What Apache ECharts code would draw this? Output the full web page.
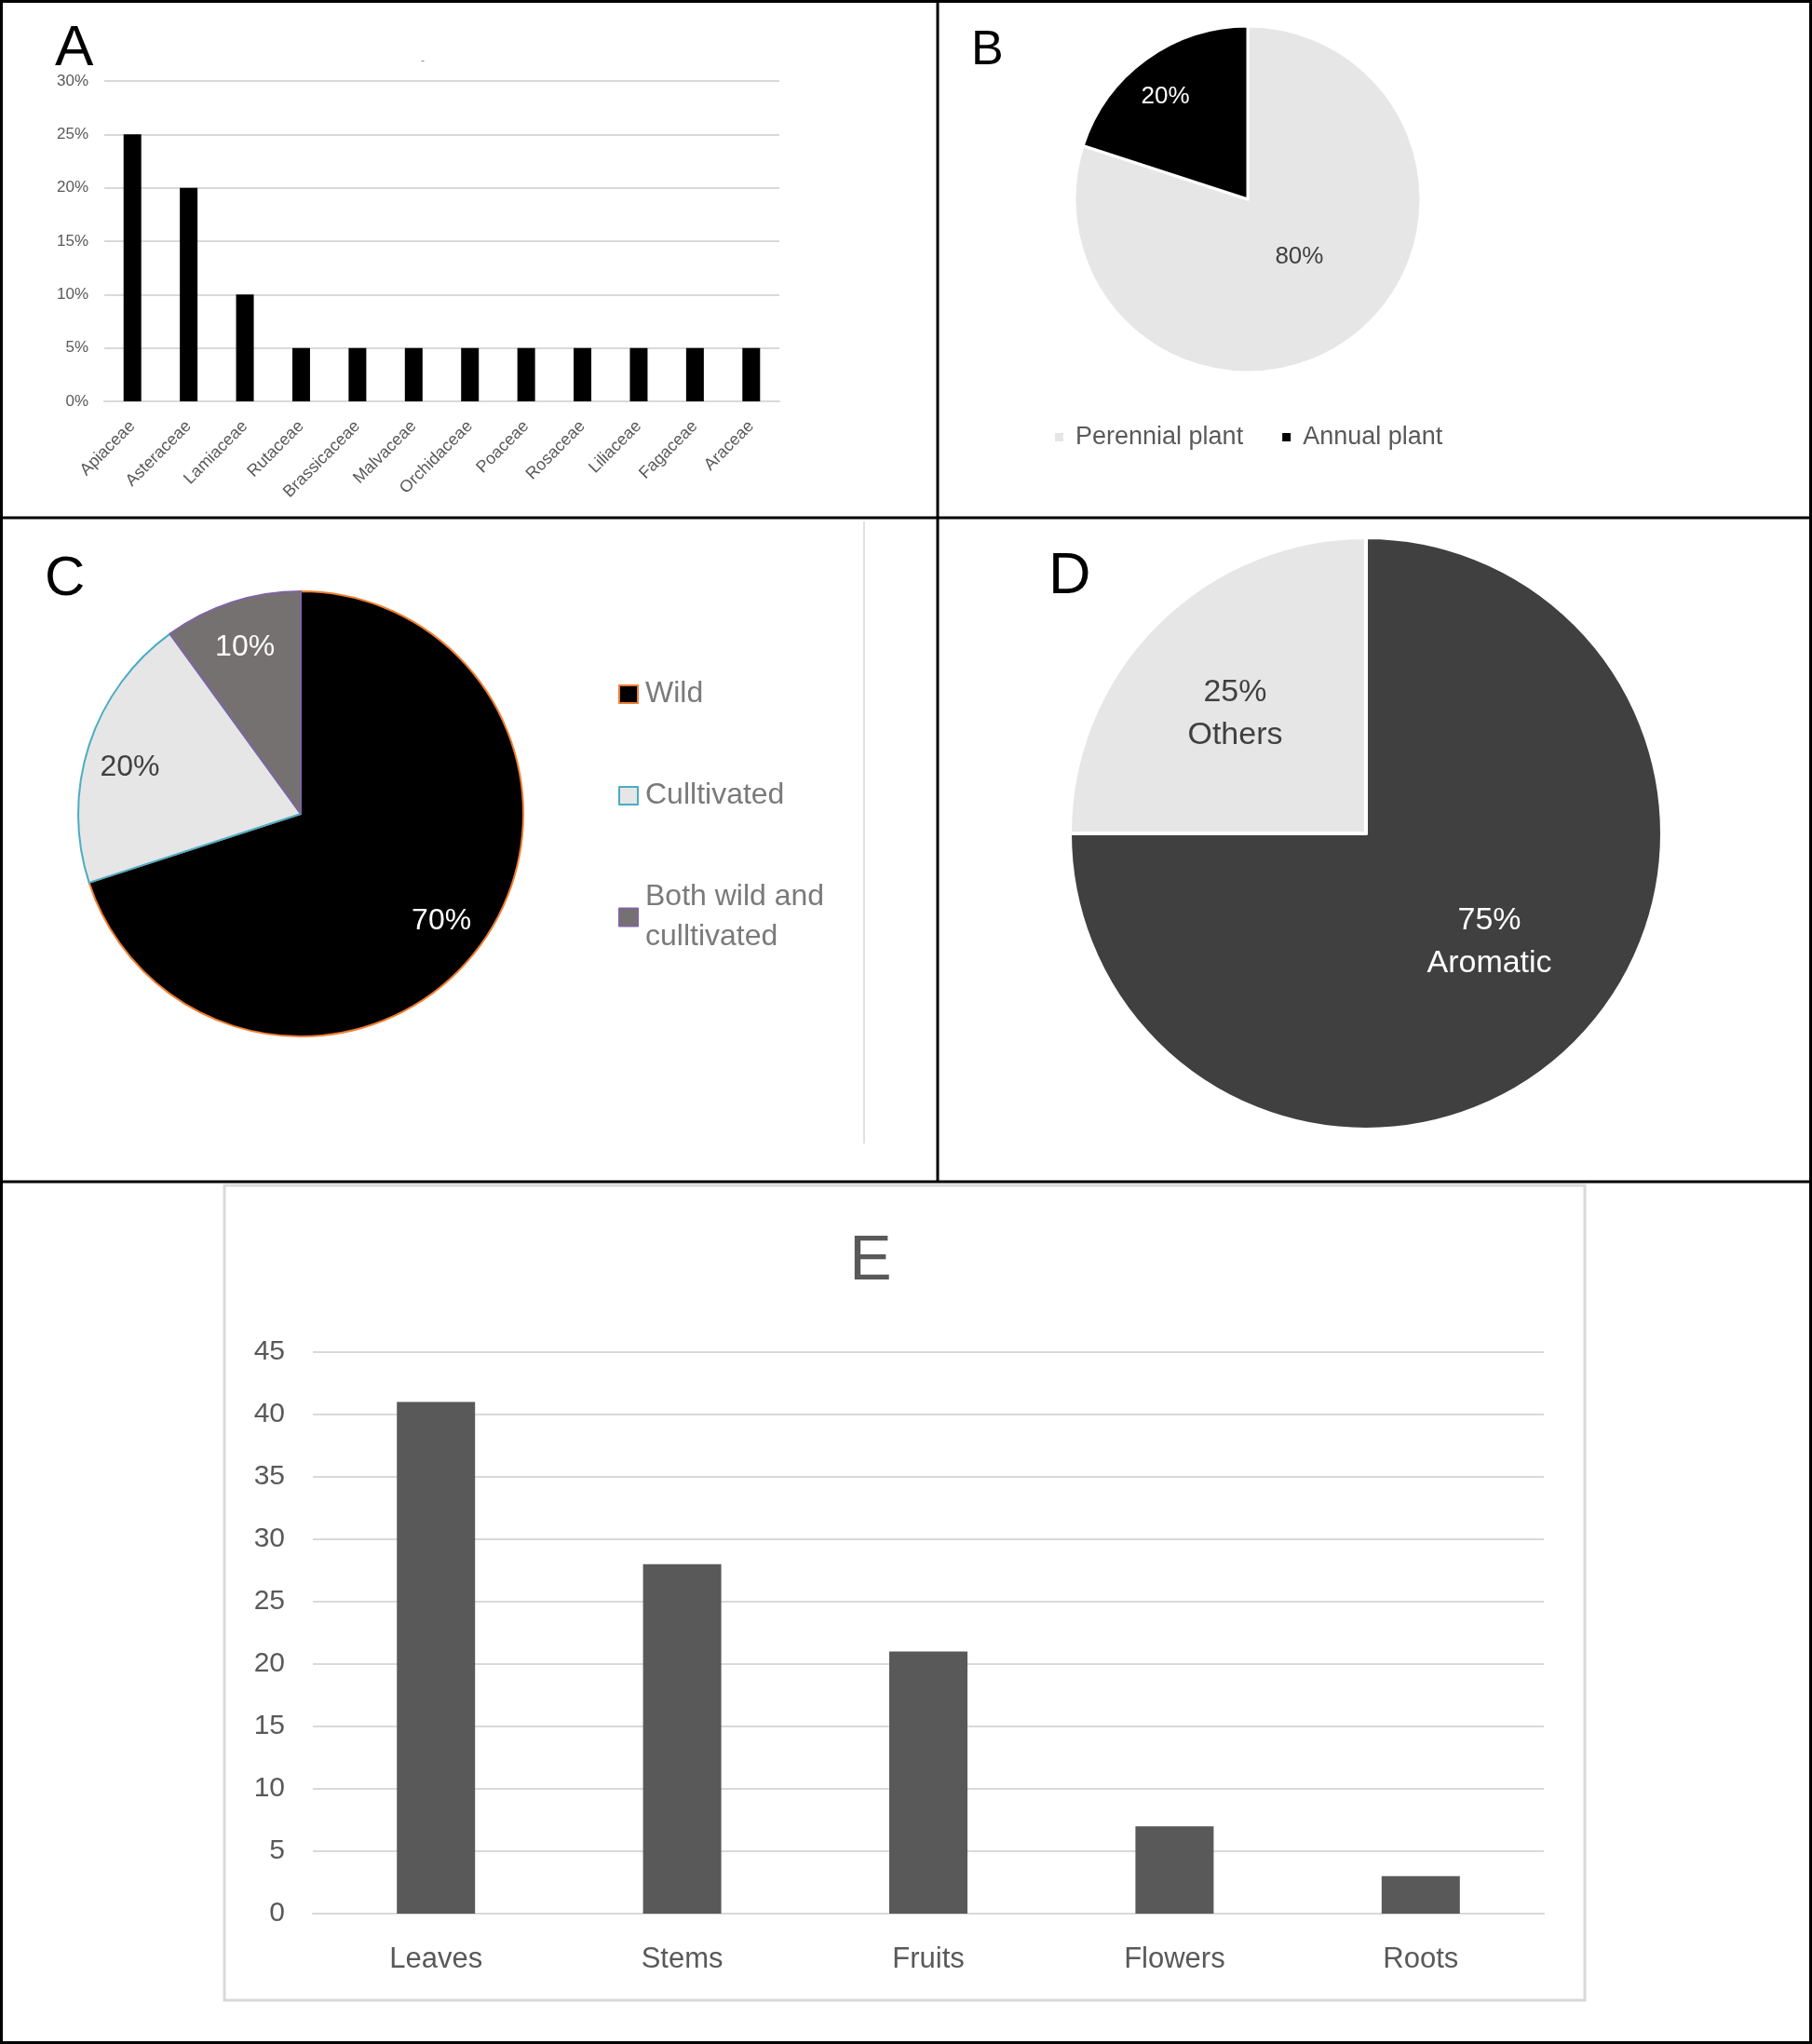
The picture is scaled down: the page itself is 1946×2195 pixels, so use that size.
<!DOCTYPE html>
<html>
<head>
<meta charset="utf-8">
<script src="https://cdn.jsdelivr.net/npm/echarts@6/dist/echarts.min.js"></script>
<style>
html,body{margin:0;padding:0;background:#fff;}
#chart{width:1946px;height:2195px;}
</style>
</head>
<body>
<div id="chart"></div>
<script>
// ---- Data ----
const familyNames = ['Apiaceae','Asteraceae','Lamiaceae','Rutaceae','Brassicaceae','Malvaceae','Orchidaceae','Poaceae','Rosaceae','Liliaceae','Fagaceae','Araceae'];
const familyValues = [25,20,10,5,5,5,5,5,5,5,5,5];
const lifeNames = ['Perennial plant','Annual plant'];
const lifeValues = [80,20];
const originNames = ['Wild','Culltivated','Both wild and\nculltivated'];
const originValues = [70,20,10];
const aromaNames = ['Aromatic','Others'];
const aromaValues = [75,25];
const partNames = ['Leaves','Stems','Fruits','Flowers','Roots'];
const partValues = [41,28,21,7,3];

// ---- Styles ----
const FONT = "'Liberation Sans', Arial, sans-serif";
const TXT = '#595959';
const GRID = '#d9d9d9';
const lifeColors = ['#e6e6e6','#000000'];
const originColors = ['#000000','#e6e6e6','#767171'];
const originBorders = ['#ED7D31','#4BACC6','#8064A2'];
const aromaColors = ['#404040','#e7e6e6'];
// label nudges (px) relative to default inside position
const nudgeB = [[-1,-16],[-32,-33]];
const nudgeC = [[52,43],[-67,-12],[-22,-62]];
const nudgeD = [[18,2],[-26,-14]];
const nudger = arr => (p => ({dx: arr[p.dataIndex][0], dy: arr[p.dataIndex][1]}));

const chart = echarts.init(document.getElementById('chart'));

const option = {
  backgroundColor: '#fff',
  animation: false,
  textStyle: {fontFamily: FONT},
  grid: [
    {left:112, top:87, width:725, height:344},
    {left:336, top:1452, width:1322, height:603}
  ],
  xAxis: [
    {gridIndex:0, type:'category', data: familyNames,
     axisLine:{lineStyle:{color:GRID,width:2}}, axisTick:{show:false},
     axisLabel:{rotate:45, color:TXT, fontSize:18, margin:24, fontFamily:FONT, interval:0}},
    {gridIndex:1, type:'category', data: partNames,
     axisLine:{lineStyle:{color:GRID,width:2}}, axisTick:{show:false},
     axisLabel:{color:TXT, fontSize:31, margin:34, fontFamily:FONT, interval:0}}
  ],
  yAxis: [
    {gridIndex:0, type:'value', min:0, max:30, interval:5,
     axisLine:{show:false}, axisTick:{show:false},
     splitLine:{lineStyle:{color:GRID,width:2}},
     axisLabel:{formatter:'{value}%', color:TXT, fontSize:17, margin:17, fontFamily:FONT}},
    {gridIndex:1, type:'value', min:0, max:45, interval:5,
     axisLine:{show:false}, axisTick:{show:false},
     splitLine:{lineStyle:{color:GRID,width:2}},
     axisLabel:{color:TXT, fontSize:30, margin:30, fontFamily:FONT}}
  ],
  legend: [
    {data: lifeNames, left:1126, top:451, orient:'horizontal', itemWidth:11, itemHeight:11, itemGap:40,
     icon:'rect', textStyle:{color:TXT, fontSize:27, fontFamily:FONT, padding:[0,0,0,7]}},
    {data: originNames.map((n,i)=>({name:n, itemStyle:{color:originColors[i], borderColor:originBorders[i], borderWidth:2}})),
     left:659, top:719, orient:'vertical', itemWidth:20, itemHeight:19, itemGap:66,
     icon:'rect', textStyle:{color:'#7a7a7a', fontSize:32, lineHeight:43, fontFamily:FONT, padding:[0,0,0,3]}}
  ],
  series: [
    {type:'bar', xAxisIndex:0, yAxisIndex:0, data: familyValues, barWidth:19,
     itemStyle:{color:'#000'}},
    {type:'pie', center:[1340,214], radius:186, startAngle:90, clockwise:true,
     data: lifeNames.map((n,i)=>({name:n, value:lifeValues[i], itemStyle:{color:lifeColors[i]},
       label:{color: i===1 ? '#fff' : '#404040'}})),
     itemStyle:{borderColor:'#fff', borderWidth:3},
     label:{show:true, position:'inside', formatter: p => p.percent + '%', fontSize:26, fontFamily:FONT},
     labelLayout: nudger(nudgeB),
     labelLine:{show:false}, emphasis:{disabled:true}},
    {type:'pie', center:[323,874], radius:239, startAngle:90, clockwise:true,
     data: originNames.map((n,i)=>({name:n, value:originValues[i],
       itemStyle:{color:originColors[i], borderColor:originBorders[i], borderWidth:2},
       label:{color: i===1 ? '#404040' : '#fff'}})),
     label:{show:true, position:'inside', formatter: p => p.percent + '%', fontSize:32, fontFamily:FONT},
     labelLayout: nudger(nudgeC),
     labelLine:{show:false}, emphasis:{disabled:true}},
    {type:'pie', center:[1467,895], radius:318, startAngle:90, clockwise:true,
     data: aromaNames.map((n,i)=>({name:n, value:aromaValues[i], itemStyle:{color:aromaColors[i]},
       label:{color: i===0 ? '#fff' : '#404040'}})),
     itemStyle:{borderColor:'#fff', borderWidth:4},
     label:{show:true, position:'inside', formatter: p => p.percent + '%\n' + p.name, fontSize:34, lineHeight:46, fontFamily:FONT},
     labelLayout: nudger(nudgeD),
     labelLine:{show:false}, emphasis:{disabled:true}},
    {type:'bar', xAxisIndex:1, yAxisIndex:1, data: partValues, barWidth:84,
     itemStyle:{color:'#595959'}}
  ],
  graphic: [
    // panel frame
    {type:'rect', shape:{x:1.5,y:1.5,width:1943,height:2192}, style:{fill:'none', stroke:'#000', lineWidth:3}, z:100},
    {type:'line', shape:{x1:1007,y1:0,x2:1007,y2:1269}, style:{stroke:'#000', lineWidth:3}, z:100},
    {type:'line', shape:{x1:0,y1:556,x2:1946,y2:556}, style:{stroke:'#000', lineWidth:3}, z:100},
    {type:'line', shape:{x1:0,y1:1269,x2:1946,y2:1269}, style:{stroke:'#000', lineWidth:3}, z:100},
    // light separators / box
    {type:'line', shape:{x1:928,y1:560,x2:928,y2:1228}, style:{stroke:'#e0e0e0', lineWidth:2}, z:50},
    {type:'rect', shape:{x:241,y:1273,width:1461,height:875}, style:{fill:'none', stroke:GRID, lineWidth:3}, z:50},
    // panel letters
    {type:'text', left:59, top:22, style:{text:'A', fontSize:62, fill:'#000', fontFamily:FONT}},
    {type:'text', left:1043, top:29, style:{text:'B', fontSize:52, fill:'#000', fontFamily:FONT}},
    {type:'text', left:48, top:592, style:{text:'C', fontSize:60, fill:'#000', fontFamily:FONT}},
    {type:'text', left:1126, top:588, style:{text:'D', fontSize:63, fill:'#000', fontFamily:FONT}},
    {type:'text', left:452, top:60, style:{text:'-', fontSize:12, fill:'#888', fontFamily:FONT}},
    {type:'text', x:935, y:1355, style:{text:'E', fontSize:68, fill:TXT, fontFamily:FONT, align:'center', verticalAlign:'middle'}}
  ]
};
chart.setOption(option);
</script>
</body>
</html>
